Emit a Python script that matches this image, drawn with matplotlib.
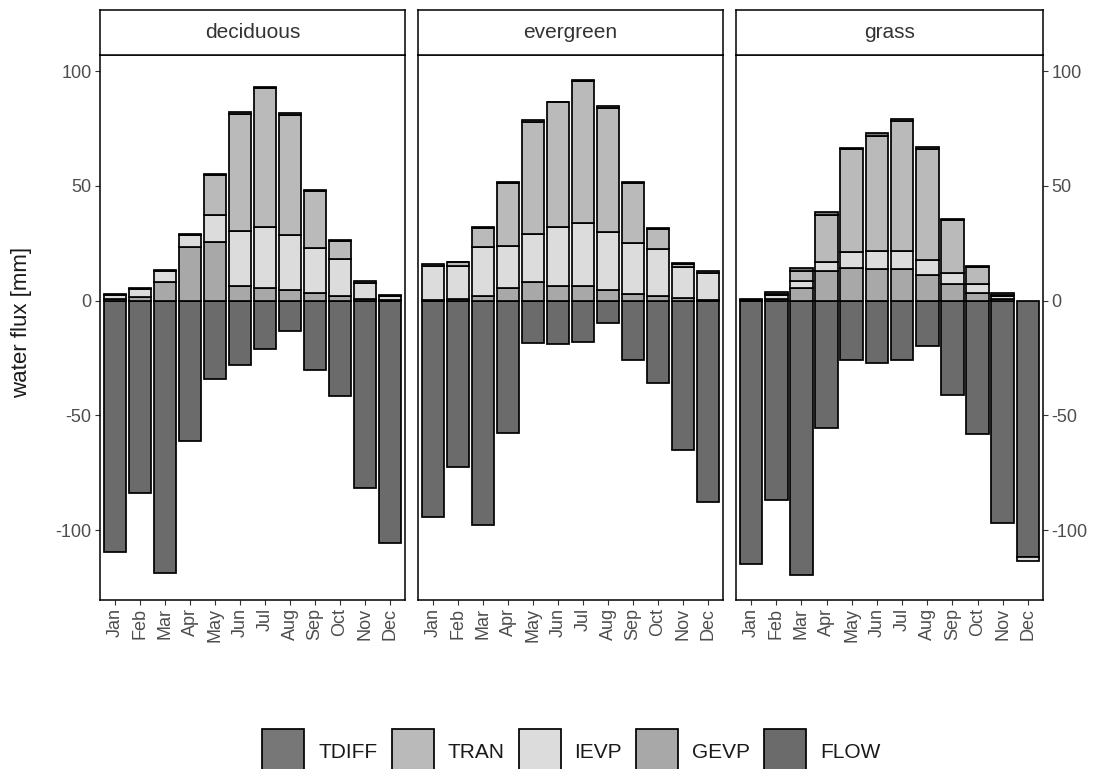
import matplotlib
matplotlib.use("Agg")
import matplotlib.pyplot as plt
from matplotlib.patches import Rectangle
import numpy as np

# ---- data -------------------------------------------------------------
months = ["Jan", "Feb", "Mar", "Apr", "May", "Jun",
          "Jul", "Aug", "Sep", "Oct", "Nov", "Dec"]
facets = ["deciduous", "evergreen", "grass"]
components = ["TDIFF", "TRAN", "IEVP", "GEVP", "FLOW"]   # legend order

deciduous_FLOW = [-109.7, -83.8, -118.7, -61.2, -34.3, -27.9, -21.3, -13.2, -30.2, -41.6, -81.6, -105.6]
deciduous_GEVP = [0.5, 1.5, 8.0, 23.2, 25.7, 6.2, 5.3, 4.7, 3.1, 2.0, 0.5, 0.3]
deciduous_IEVP = [2.0, 3.5, 5.0, 5.4, 11.4, 24.3, 26.6, 24.0, 20.0, 16.3, 7.0, 1.8]
deciduous_TRAN = [0.0, 0.0, 0.0, 0.0, 17.5, 51.0, 60.7, 52.0, 24.7, 7.7, 0.0, 0.0]
deciduous_TDIFF = [0.3, 0.5, 0.5, 0.5, 0.4, 0.5, 0.4, 1.0, 0.5, 0.5, 1.2, 0.3]

evergreen_FLOW = [-94.4, -72.4, -97.7, -57.9, -18.7, -19.0, -18.0, -10.0, -26.0, -36.0, -65.2, -87.7]
evergreen_GEVP = [0.2, 0.8, 1.8, 5.3, 7.9, 6.2, 6.2, 4.7, 2.8, 1.8, 1.0, 0.4]
evergreen_IEVP = [14.9, 14.2, 21.4, 18.6, 21.1, 25.8, 27.6, 25.0, 22.1, 20.6, 13.5, 11.6]
evergreen_TRAN = [0.0, 1.7, 8.3, 27.2, 49.0, 54.3, 62.0, 54.1, 26.2, 8.6, 1.3, 0.0]
evergreen_TDIFF = [0.8, 0.3, 0.4, 0.5, 0.5, 0.3, 0.4, 1.0, 0.5, 0.5, 0.5, 1.0]

grass_FLOW = [-114.8, -87.0, -119.7, -55.4, -26.1, -27.1, -26.1, -19.7, -41.0, -58.0, -96.9, -111.9]
grass_GEVP = [0.1, 0.8, 5.5, 12.8, 14.2, 13.8, 13.8, 11.1, 7.2, 3.1, 0.8, 0.0]
grass_IEVP = [0.0, 1.5, 2.9, 4.2, 6.9, 8.0, 8.0, 6.7, 4.7, 4.1, 1.2, -1.7]
grass_TRAN = [0.0, 0.5, 4.6, 20.4, 44.8, 50.0, 56.3, 48.3, 23.3, 7.6, 0.3, 0.0]
grass_TDIFF = [0.6, 0.8, 1.0, 1.0, 0.4, 1.0, 1.0, 1.0, 0.4, 0.4, 0.8, 0.0]

y_ticks = [-100, -50, 0, 50, 100]

data = {
    "deciduous": {"FLOW": deciduous_FLOW, "GEVP": deciduous_GEVP, "IEVP": deciduous_IEVP,
                  "TRAN": deciduous_TRAN, "TDIFF": deciduous_TDIFF},
    "evergreen": {"FLOW": evergreen_FLOW, "GEVP": evergreen_GEVP, "IEVP": evergreen_IEVP,
                  "TRAN": evergreen_TRAN, "TDIFF": evergreen_TDIFF},
    "grass": {"FLOW": grass_FLOW, "GEVP": grass_GEVP, "IEVP": grass_IEVP,
              "TRAN": grass_TRAN, "TDIFF": grass_TDIFF},
}

fills = {"TDIFF": "#777777", "TRAN": "#bababa", "IEVP": "#dcdcdc",
         "GEVP": "#a8a8a8", "FLOW": "#6b6b6b"}

# ---- style ------------------------------------------------------------
plt.rcParams["font.family"] = ["Liberation Sans", "DejaVu Sans"]
plt.rcParams["axes.unicode_minus"] = False

W, H = 1101, 769
fig = plt.figure(figsize=(W / 100, H / 100), dpi=100)
fig.patch.set_facecolor("white")


def px_rect(x0, y0, x1, y1):
    return [x0 / W, 1 - y1 / H, (x1 - x0) / W, (y1 - y0) / H]


panel_x = [(100, 405), (418, 723), (736, 1043)]
panel_top, panel_bottom = 55, 600
strip_top = 10
bar_lw = 1.25

# stacking order, nearest to zero first
stack_order = components[::-1]

# shared y range with 5% expansion
ymax, ymin = 0.0, 0.0
for f in facets:
    p = np.zeros(12)
    n = np.zeros(12)
    for c in stack_order:
        v = np.array(data[f][c], dtype=float)
        p += np.where(v > 0, v, 0)
        n += np.where(v < 0, v, 0)
    ymax = max(ymax, p.max())
    ymin = min(ymin, n.min())
span = ymax - ymin
ylim = (ymin - 0.05 * span, ymax + 0.05 * span)

x = np.arange(len(months))
text_grey = "#4d4d4d"
tick_fs = 13

for i, f in enumerate(facets):
    x0, x1 = panel_x[i]
    ax = fig.add_axes(px_rect(x0, panel_top, x1, panel_bottom))
    pos = np.zeros(12)
    neg = np.zeros(12)
    for c in stack_order:
        v = np.array(data[f][c], dtype=float)
        base = np.where(v >= 0, pos, neg)
        mask = v != 0
        ax.bar(x[mask], v[mask], bottom=base[mask], width=0.9,
               color=fills[c], edgecolor="black", linewidth=bar_lw, zorder=2)
        pos += np.where(v > 0, v, 0)
        neg += np.where(v < 0, v, 0)

    ax.set_xlim(-0.6, 11.6)
    ax.set_ylim(*ylim)
    ax.set_xticks(x)
    ax.set_xticklabels(months, rotation=90, fontsize=tick_fs, color=text_grey)
    ax.set_yticks(y_ticks)
    ax.set_yticklabels([str(t) for t in y_ticks], fontsize=tick_fs, color=text_grey)
    ax.tick_params(axis="both", length=3.5, width=0.8, color="#333333", pad=2.5)
    for s in ax.spines.values():
        s.set_linewidth(1.1)
        s.set_color("black")
    if i == 2:
        ax.yaxis.tick_right()
        ax.tick_params(axis="y", which="both", left=False, right=True)
    elif i == 1:
        ax.tick_params(axis="y", left=False, labelleft=False)

    # facet strip
    sax = fig.add_axes(px_rect(x0, strip_top, x1, panel_top))
    sax.set_xticks([])
    sax.set_yticks([])
    sax.set_facecolor("white")
    for s in sax.spines.values():
        s.set_linewidth(1.1)
        s.set_color("black")
    sax.text(0.5, 0.5, f, ha="center", va="center", fontsize=15,
             color="#333333", transform=sax.transAxes)

# shared y-axis title
fig.text(22 / W, 1 - 322 / H, "water flux [mm]", rotation=90, fontsize=16,
         ha="center", va="center", color="#1a1a1a")

# ---- legend (bottom, horizontal) --------------------------------------
key_w, key_h = 42, 46
key_cy = 752
label_gap = 14
item_gap = 14
label_fs = 15

renderer = fig.canvas.get_renderer()
widths = []
for c in components:
    t = fig.text(0, 0, c, fontsize=label_fs)
    widths.append(t.get_window_extent(renderer).width)
    t.remove()
total = sum(key_w + label_gap + w for w in widths) + item_gap * (len(components) - 1)
cx = (panel_x[0][0] + panel_x[-1][1]) / 2
xpos = cx - total / 2
for c, w in zip(components, widths):
    fig.add_artist(Rectangle((xpos / W, 1 - (key_cy + key_h / 2) / H),
                             key_w / W, key_h / H, transform=fig.transFigure,
                             facecolor=fills[c], edgecolor="black", linewidth=bar_lw))
    fig.text((xpos + key_w + label_gap) / W, 1 - key_cy / H, c, fontsize=label_fs,
             ha="left", va="center", color="#1a1a1a")
    xpos += key_w + label_gap + w + item_gap

fig.savefig("out.png", dpi=100, facecolor="white")
